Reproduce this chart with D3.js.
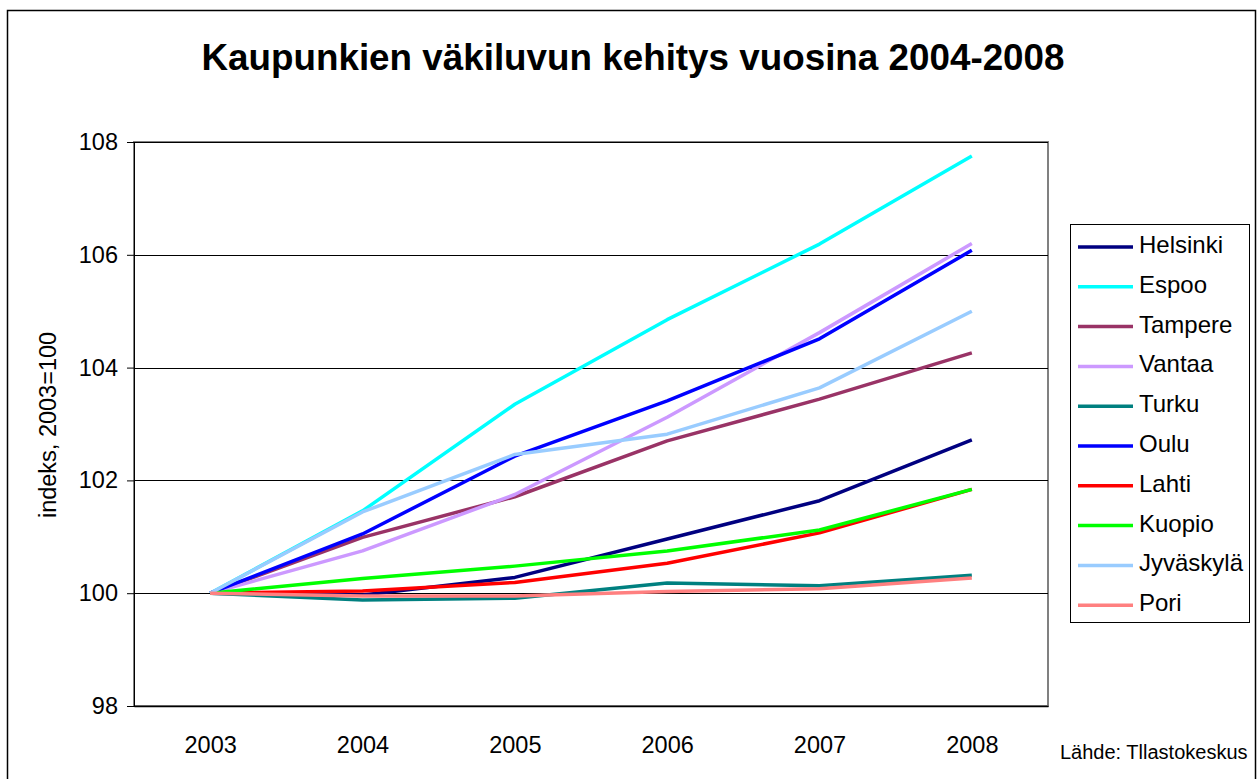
<!DOCTYPE html>
<html>
<head>
<meta charset="utf-8">
<script src="https://cdn.jsdelivr.net/npm/d3@7"></script>
<style>
  body { margin: 0; background: #fff; }
  svg { display: block; font-family: 'Liberation Sans', Arial, sans-serif; }
</style>
</head>
<body>
<div id="chartFrame"></div>
<script>
const chartWidth = 1257
const chartHeight = 779
const margin = {
  'top': 142,
  'left': 134,
  'right': 209,
  'bottom': 73
}
const years = ['2003', '2004', '2005', '2006', '2007', '2008']
const yTicks = [98, 100, 102, 104, 106, 108]
const cities = ['Helsinki', 'Espoo', 'Tampere', 'Vantaa', 'Turku', 'Oulu', 'Lahti', 'Kuopio', 'Jyväskylä', 'Pori']
const cityColors = ['#000080', '#00FFFF', '#993366', '#CC99FF', '#008080', '#0000FF', '#FF0000', '#00FF00', '#99CCFF', '#FF8080']
const helsinki = [100, 99.97, 100.28, 100.96, 101.64, 102.72]
const espoo = [100, 101.46, 103.35, 104.85, 106.19, 107.75]
const tampere = [100, 100.99, 101.71, 102.70, 103.44, 104.26]
const vantaa = [100, 100.75, 101.75, 103.12, 104.62, 106.20]
const turku = [100, 99.88, 99.91, 100.18, 100.13, 100.32]
const oulu = [100, 101.05, 102.43, 103.41, 104.51, 106.08]
const lahti = [100, 100.04, 100.19, 100.53, 101.07, 101.84]
const kuopio = [100, 100.26, 100.48, 100.75, 101.12, 101.84]
const jyvaskyla = [100, 101.44, 102.46, 102.82, 103.64, 105.00]
const pori = [100, 99.95, 99.95, 100.03, 100.08, 100.27]
const seriesValues = [helsinki, espoo, tampere, vantaa, turku, oulu, lahti, kuopio, jyvaskyla, pori]
const titleText = 'Kaupunkien väkiluvun kehitys vuosina 2004-2008'
const yTitleText = 'indeks, 2003=100'
const sourceText = 'Lähde: Tllastokeskus'

let svg = d3.select('#chartFrame')
  .append('svg')
  .attr('width', chartWidth)
  .attr('height', chartHeight)

// outer chart border
svg.append('rect')
  .attr('x', 7.5)
  .attr('y', 10.5)
  .attr('width', 1248)
  .attr('height', 800)
  .style('fill', '#fff')
  .style('stroke', '#000')
  .style('stroke-width', 1.5)

let plotW = chartWidth - margin.left - margin.right
let plotH = chartHeight - margin.top - margin.bottom

let xScale = d3.scalePoint()
  .domain(years)
  .range([0, plotW])
  .padding(0.5)
let yScale = d3.scaleLinear()
  .domain([98, 108])
  .range([plotH, 0])

let g = svg.append('g')
  .attr('transform', `translate(${margin.left},${margin.top})`)

// plot area border
g.append('rect')
  .attr('width', plotW)
  .attr('height', plotH)
  .style('fill', 'none')
  .style('stroke', '#808080')
  .style('stroke-width', 2)

// gridlines
g.append('g')
  .selectAll('line')
  .data(yTicks)
  .enter()
  .append('line')
  .attr('x1', 0)
  .attr('x2', plotW)
  .attr('y1', d => Math.round(yScale(d)) + 0.5)
  .attr('y2', d => Math.round(yScale(d)) + 0.5)
  .style('stroke', '#000')
  .style('stroke-width', 1)

let yAxis = g.append('g')
  .call(d3.axisLeft(yScale).tickValues(yTicks).tickSize(7).tickPadding(9))
yAxis.selectAll('text')
  .style('font-size', '23.5px')
  .style('fill', '#000')
  .style('font-family', 'Liberation Sans, Arial, sans-serif')
yAxis.selectAll('line, path').style('stroke', '#000')

let xAxis = g.append('g')
  .attr('transform', `translate(0,${plotH})`)
  .call(d3.axisBottom(xScale).tickSize(0).tickPadding(30))
xAxis.selectAll('text')
  .style('font-size', '23.5px')
  .style('fill', '#000')
  .style('font-family', 'Liberation Sans, Arial, sans-serif')
xAxis.select('path').style('stroke', '#000').style('stroke-width', 1.5)

// city lines
let line = d3.line()
  .x((d, i) => xScale(years[i]))
  .y(d => yScale(d))
seriesValues.forEach((vals, i) => {
  g.append('path')
    .datum(vals)
    .style('fill', 'none')
    .style('stroke', cityColors[i])
    .style('stroke-width', 3.5)
    .style('stroke-linejoin', 'round')
    .attr('d', line)
})

// title
svg.append('text')
  .attr('x', 633)
  .attr('y', 70)
  .attr('text-anchor', 'middle')
  .style('font-size', '36.8px')
  .style('font-weight', 'bold')
  .text(titleText)

svg.append('text')
  .attr('transform', 'translate(56,425) rotate(-90)')
  .attr('text-anchor', 'middle')
  .style('font-size', '23.5px')
  .text(yTitleText)

// legend
let legend = svg.append('g')
  .attr('transform', 'translate(1070,224)')
legend.append('rect')
  .attr('x', 0.5)
  .attr('y', 0.5)
  .attr('width', 179)
  .attr('height', 398)
  .style('fill', '#fff')
  .style('stroke', '#000')
  .style('stroke-width', 1)
let item = legend.selectAll('.item')
  .data(cities)
  .enter()
  .append('g')
  .classed('item', true)
  .attr('transform', (d, i) => `translate(0,${23 + i * 39.8})`)
item.append('line')
  .attr('x1', 8)
  .attr('x2', 63)
  .style('stroke', (d, i) => cityColors[i])
  .style('stroke-width', 3.5)
item.append('text')
  .attr('x', 69)
  .attr('y', 6)
  .style('font-size', '24px')
  .text(d => d)

svg.append('text')
  .attr('x', 1060)
  .attr('y', 759)
  .style('font-size', '20px')
  .text(sourceText)
</script>
</body>
</html>
